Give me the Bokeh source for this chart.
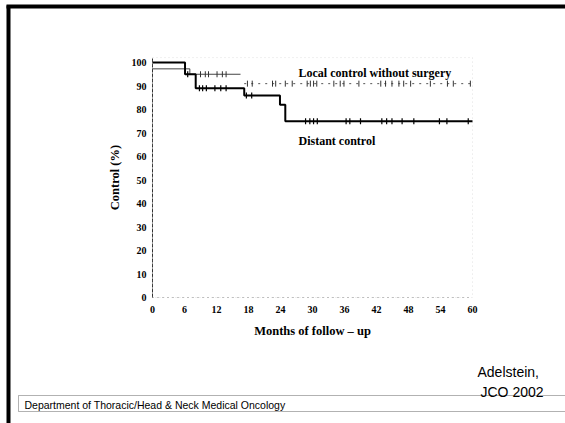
import math
from bokeh.plotting import figure
from bokeh.models import Label, BoxAnnotation, Range1d, FixedTicker
from bokeh.embed import file_html
from bokeh.resources import INLINE

# ---- data ----
month_ticks = [0, 6, 12, 18, 24, 30, 36, 42, 48, 54, 60]
pct_ticks = [0, 10, 20, 30, 40, 50, 60, 70, 80, 90, 100]

distant_t = [0, 6.1, 8.1, 17.2, 23.9, 24.9, 60]
distant_v = [100, 95, 89, 86, 82, 75, 75]
distant_cens_t = [6.6, 8.8, 9.4, 10.1, 11.7, 12.8, 13.8, 17.6, 18.6,
                  28.7, 29.5, 30.2, 30.9, 36.3, 37.0, 39.0, 43.0, 43.9, 44.9,
                  46.8, 49.0, 53.8, 55.2, 59.2]
distant_cens_v = [95, 89, 89, 89, 89, 89, 89, 86, 86,
                  75, 75, 75, 75, 75, 75, 75, 75, 75, 75,
                  75, 75, 75, 75, 75]

local_t = [0, 7.0, 16.5, 17.2, 60]
local_v = [97.3, 95, 95, 91, 91]
local_cens_t = [9.0, 9.9, 10.5, 12.1, 13.1, 13.8, 17.8, 18.7, 22.5, 23.1,
                24.9, 26.2, 29.0, 29.6, 30.2, 30.8, 34.0, 35.2, 35.9, 38.7,
                42.8, 43.7, 44.9, 46.2, 47.1, 48.4, 52.1, 55.3, 56.4, 59.6]
local_cens_v = [95, 95, 95, 95, 95, 95, 91, 91, 91, 91,
                91, 91, 91, 91, 91, 91, 91, 91, 91, 91,
                91, 91, 91, 91, 91, 91, 91, 91, 91, 91]

series_labels = ["Local control without surgery", "Distant control"]
x_title = "Months of follow \u2013 up"
y_title = "Control (%)"
footer = "Department of Thoracic/Head & Neck Medical Oncology"
citation = ["Adelstein,", "JCO 2002"]

SERIF = "Liberation Serif"
SANS = "Liberation Sans"

# ---- layout: the frame covers the whole slide, axes are pinned at 0 ----
W, H = 565, 423
X0_PX, PX_PER_MONTH = 152.0, 320.0 / 60.0
Y0_PX, PX_PER_PCT = 297.0, 2.35
x_start = -X0_PX / PX_PER_MONTH
x_end = (W - X0_PX) / PX_PER_MONTH
y_end = Y0_PX / PX_PER_PCT
y_start = -(H - Y0_PX) / PX_PER_PCT
Y_TOP = 102.1


def dx(px):
    return (px - X0_PX) / PX_PER_MONTH


def dy(py):
    return (Y0_PX - py) / PX_PER_PCT


p = figure(width=W, height=H, min_border=0,
           x_range=Range1d(x_start, x_end), y_range=Range1d(y_start, y_end),
           output_backend="svg", toolbar_location=None,
           background_fill_color="white", border_fill_color="white")

p.xgrid.visible = False
p.ygrid.visible = False
p.outline_line_color = None

for ax in (p.xaxis, p.yaxis):
    ax.fixed_location = 0
    ax.major_tick_out = 0
    ax.major_tick_in = 0
    ax.minor_tick_out = 0
    ax.minor_tick_in = 0
    ax.major_label_text_font = SERIF
    ax.major_label_text_font_style = "bold"
    ax.major_label_text_font_size = "10px"
    ax.major_label_text_color = "black"
    ax.axis_label_text_font = SERIF
    ax.axis_label_text_font_style = "bold"
    ax.axis_label_text_font_size = "12.5px"
    ax.axis_label_text_color = "black"

p.xaxis.bounds = (month_ticks[0], month_ticks[-1])
p.yaxis.bounds = (pct_ticks[0], Y_TOP)
p.xaxis.ticker = FixedTicker(ticks=month_ticks)
p.yaxis.ticker = FixedTicker(ticks=pct_ticks)
p.xaxis.axis_label = x_title
p.yaxis.axis_label = y_title
p.xaxis.major_label_standoff = 8
p.xaxis.axis_label_standoff = 8
p.yaxis.major_label_standoff = 6
p.yaxis.axis_label_standoff = 7
p.xaxis.axis_line_color = "#8a8a8a"
p.xaxis.axis_line_dash = "1 4"
p.yaxis.axis_line_color = "#333333"
p.yaxis.axis_line_dash = "4 1"

# dotted chart box (top and right sides)
p.add_layout(BoxAnnotation(left=month_ticks[0], right=month_ticks[-1],
                           bottom=pct_ticks[0], top=Y_TOP, fill_alpha=0,
                           line_color="#9a9a9a", line_dash="1 3",
                           line_width=1))

# curves
p.step(local_t[:3], local_v[:3], mode="after", line_color="#444444",
       line_width=1)
p.line(local_t[3:], local_v[3:], line_color="#555555", line_width=1,
       line_dash="2 5")
p.step(distant_t, distant_v, mode="after", line_color="black", line_width=2)
p.scatter(local_cens_t, local_cens_v, marker="dash", angle=math.pi / 2,
          size=6, line_color="#333333", line_width=1)
p.scatter(distant_cens_t, distant_cens_v, marker="dash", angle=math.pi / 2,
          size=6, line_color="black", line_width=1.2)

p.add_layout(Label(x=dx(298), y=dy(72), text=series_labels[0],
                   text_font=SERIF, text_font_style="bold",
                   text_font_size="12px", text_baseline="middle",
                   text_color="black"))
p.add_layout(Label(x=dx(298), y=dy(140), text=series_labels[1],
                   text_font=SERIF, text_font_style="bold",
                   text_font_size="12px", text_baseline="middle",
                   text_color="black"))

# slide texts
p.add_layout(Label(x=dx(24), y=dy(404), text=footer, text_font=SANS,
                   text_font_size="10.5px", text_baseline="middle",
                   text_color="black"))
p.add_layout(Label(x=dx(477), y=dy(371), text=citation[0], text_font=SANS,
                   text_font_size="14px", text_baseline="middle",
                   text_color="black"))
p.add_layout(Label(x=dx(480), y=dy(391), text=citation[1], text_font=SANS,
                   text_font_size="14px", text_baseline="middle",
                   text_color="black"))


# slide frame decorations
def pbox(l, r, t, b, **kw):
    return BoxAnnotation(left=dx(l), right=dx(r), top=dy(t), bottom=dy(b),
                         **kw)


p.add_layout(pbox(18, 575, 395, 411, fill_alpha=0, line_color="black",
                  line_width=1))
p.add_layout(pbox(6, 10, 5, 430, fill_color="black", fill_alpha=1,
                  line_alpha=0))
p.add_layout(pbox(6, 575, 4, 8, fill_color="black", fill_alpha=1,
                  line_alpha=0))

open("out.html", "w").write(file_html(p, INLINE))
